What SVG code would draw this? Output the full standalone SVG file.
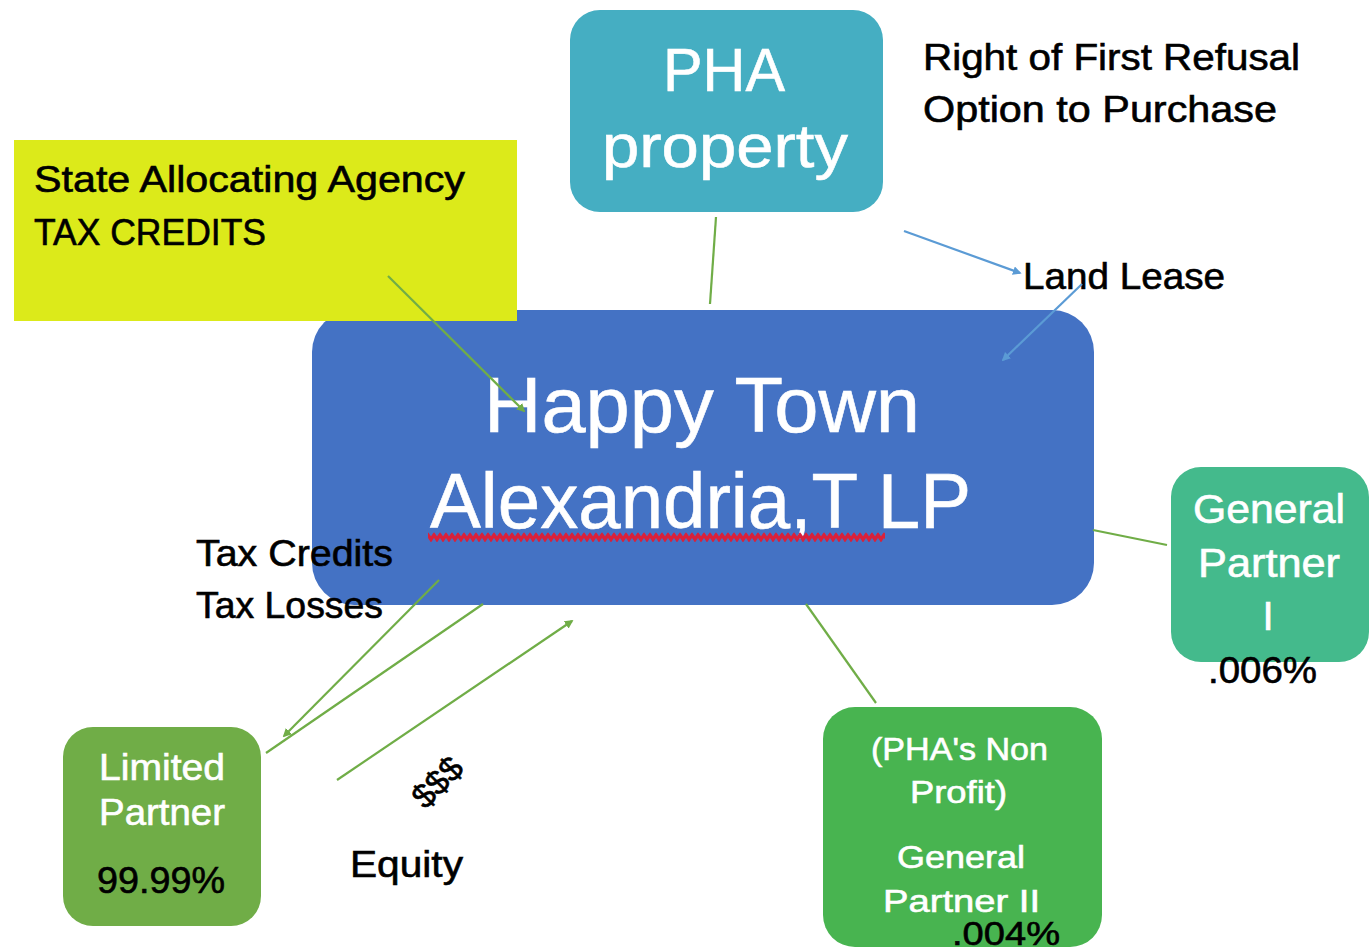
<svg xmlns="http://www.w3.org/2000/svg" width="1371" height="951" viewBox="0 0 1371 951">
  <defs>
    <style>
      text { font-family: "Liberation Sans", Arial, sans-serif; }
      .dark { fill: #000000; stroke: #000000; stroke-width: 0.6; }
      .light { fill: #ffffff; stroke: #ffffff; stroke-width: 0.6; }
      .link-g { stroke: #70AD47; stroke-width: 2.2; fill: none; }
      .link-b { stroke: #5B9BD5; stroke-width: 2.2; fill: none; }
    </style>
    <marker id="arrow-g" viewBox="0 0 10 10" refX="8" refY="5" markerWidth="4" markerHeight="4" orient="auto" markerUnits="strokeWidth">
      <path d="M0,0 L10,5 L0,10 z" fill="#70AD47"/>
    </marker>
    <marker id="arrow-b" viewBox="0 0 10 10" refX="8" refY="5" markerWidth="4" markerHeight="4" orient="auto" markerUnits="strokeWidth">
      <path d="M0,0 L10,5 L0,10 z" fill="#5B9BD5"/>
    </marker>
    <!-- spell-check wave under the partnership name -->
    <pattern id="squiggle" x="428" y="532" width="6" height="10" patternUnits="userSpaceOnUse">
      <path d="M-1,1.5 L3,7.5 L7,1.5" stroke="#D8213B" stroke-width="3.4" fill="none"/>
    </pattern>
  </defs>

  <rect width="1371" height="951" fill="#ffffff"/>

  <!-- central partnership -->
  <g id="happy-town">
    <rect x="312" y="310" width="782" height="295" rx="42" ry="42" fill="#4472C4"/>
    <text class="light" x="484" y="432" font-size="78" textLength="436" lengthAdjust="spacingAndGlyphs">Happy Town</text>
    <text class="light" x="430" y="528" font-size="78" textLength="541" lengthAdjust="spacingAndGlyphs">Alexandria,T LP</text>
    <rect x="428" y="532" width="457" height="10" fill="url(#squiggle)"/>
  </g>

  <!-- tax credit allocator -->
  <g id="state-agency">
    <rect x="14" y="140" width="503" height="181" fill="#DCEA1A"/>
    <text class="dark" x="34" y="192" font-size="36" textLength="431" lengthAdjust="spacingAndGlyphs">State Allocating Agency</text>
    <text class="dark" x="34" y="245" font-size="36" textLength="232" lengthAdjust="spacingAndGlyphs">TAX CREDITS</text>
  </g>

  <!-- land owner -->
  <g id="pha-property">
    <rect x="570" y="10" width="313" height="202" rx="30" ry="30" fill="#45AEC2"/>
    <text class="light" x="663" y="91" font-size="62" textLength="122" lengthAdjust="spacingAndGlyphs">PHA</text>
    <text class="light" x="602" y="167" font-size="62" textLength="246" lengthAdjust="spacingAndGlyphs">property</text>
  </g>

  <g id="pha-rights">
    <text class="dark" x="923" y="70" font-size="37" textLength="377" lengthAdjust="spacingAndGlyphs">Right of First Refusal</text>
    <text class="dark" x="923" y="122" font-size="37" textLength="354" lengthAdjust="spacingAndGlyphs">Option to Purchase</text>
  </g>

  <g id="land-lease">
    <text class="dark" x="1023" y="289" font-size="37" textLength="202" lengthAdjust="spacingAndGlyphs">Land Lease</text>
  </g>

  <g id="tax-benefits">
    <text class="dark" x="196" y="566" font-size="36" textLength="197" lengthAdjust="spacingAndGlyphs">Tax Credits</text>
    <text class="dark" x="196" y="618" font-size="36" textLength="187" lengthAdjust="spacingAndGlyphs">Tax Losses</text>
  </g>

  <g id="equity">
    <text class="dark" x="437" y="794" font-size="34" text-anchor="middle" transform="rotate(-45 437 782)">$$$</text>
    <text class="dark" x="350" y="877" font-size="36" textLength="113" lengthAdjust="spacingAndGlyphs">Equity</text>
  </g>

  <!-- investor -->
  <g id="limited-partner">
    <rect x="63" y="727" width="198" height="199" rx="30" ry="30" fill="#70AD47"/>
    <text class="light" x="99" y="780" font-size="36" textLength="126" lengthAdjust="spacingAndGlyphs">Limited</text>
    <text class="light" x="99" y="825" font-size="36" textLength="126" lengthAdjust="spacingAndGlyphs">Partner</text>
    <text class="dark" x="97" y="893" font-size="36" textLength="128" lengthAdjust="spacingAndGlyphs">99.99%</text>
  </g>

  <!-- managing partners -->
  <g id="general-partner-1">
    <rect x="1171" y="467" width="198" height="195" rx="30" ry="30" fill="#44BA8C"/>
    <text class="light" x="1193" y="523" font-size="40" textLength="152" lengthAdjust="spacingAndGlyphs">General</text>
    <text class="light" x="1198" y="577" font-size="40" textLength="142" lengthAdjust="spacingAndGlyphs">Partner</text>
    <text class="light" x="1268" y="630" font-size="40" text-anchor="middle">I</text>
    <text class="dark" x="1208" y="683" font-size="36" textLength="109" lengthAdjust="spacingAndGlyphs">.006%</text>
  </g>

  <g id="general-partner-2">
    <rect x="823" y="707" width="279" height="240" rx="32" ry="32" fill="#48B450"/>
    <text class="light" x="871" y="760" font-size="32" textLength="177" lengthAdjust="spacingAndGlyphs">(PHA's Non</text>
    <text class="light" x="910" y="803" font-size="32" textLength="97" lengthAdjust="spacingAndGlyphs">Profit)</text>
    <text class="light" x="897" y="868" font-size="32" textLength="128" lengthAdjust="spacingAndGlyphs">General</text>
    <text class="light" x="883" y="912" font-size="32" textLength="157" lengthAdjust="spacingAndGlyphs">Partner  II</text>
    <text class="dark" x="952" y="945" font-size="34" textLength="108" lengthAdjust="spacingAndGlyphs">.004%</text>
  </g>

  <!-- connectors -->
  <g id="connectors">
    <line class="link-g" x1="716" y1="217" x2="710" y2="304"/>
    <line class="link-g" x1="388" y1="276" x2="524" y2="411" marker-end="url(#arrow-g)"/>
    <line class="link-b" x1="904" y1="231" x2="1020" y2="273" marker-end="url(#arrow-b)"/>
    <line class="link-b" x1="1082" y1="284" x2="1003" y2="360" marker-end="url(#arrow-b)"/>
    <line class="link-g" x1="1093" y1="530" x2="1167" y2="545"/>
    <line class="link-g" x1="806" y1="604" x2="876" y2="703"/>
    <line class="link-g" x1="439" y1="580" x2="284" y2="736" marker-end="url(#arrow-g)"/>
    <line class="link-g" x1="483" y1="604" x2="266" y2="753"/>
    <line class="link-g" x1="337" y1="780" x2="572" y2="621" marker-end="url(#arrow-g)"/>
  </g>
</svg>
